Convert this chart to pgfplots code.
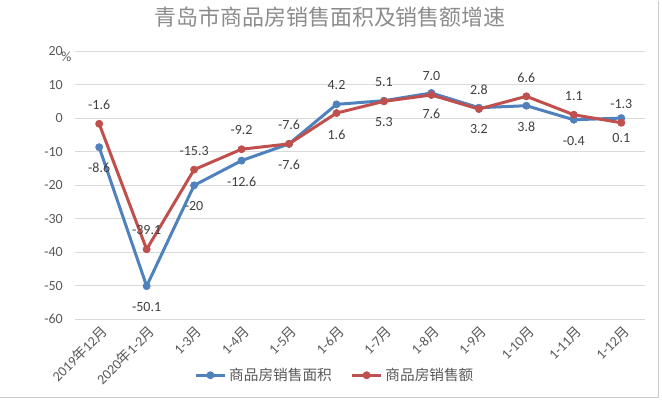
\documentclass[border=0pt]{standalone}
\usepackage{pgfplots}
\pgfplotsset{compat=1.18}
\usepackage{pgfplotstable}
\usepackage{fontspec}
\setmainfont{Carlito}
\newfontfamily\cjk{Noto Sans CJK SC}
\definecolor{cblue}{HTML}{4F81BD}
\definecolor{cred}{HTML}{C0504D}
\definecolor{tgray}{HTML}{595959}
\definecolor{lgray}{HTML}{404040}
\definecolor{ggray}{HTML}{D9D9D9}

\pgfplotstableread{
x y lab dy
0 -8.6 -8.6 -15.75
1 -50.1 -50.1 -15.75
2 -20 -20 -15.75
3 -12.6 -12.6 -15.75
4 -7.6 -7.6 -15.75
5 4.2 1.6 -22.5
6 5.3 5.3 -15.75
7 7.6 7.6 -15.75
8 3.2 3.2 -15.75
9 3.8 3.8 -15.75
10 -0.4 -0.4 -15.75
11 0.1 0.1 -15
}\areatab

\pgfplotstableread{
x y lab dy
0 -1.6 -1.6 14.25
1 -39.1 -39.1 14.25
2 -15.3 -15.3 14.25
3 -9.2 -9.2 14.25
4 -7.6 -7.6 14.25
5 1.6 4.2 21
6 5.1 5.1 14.25
7 7.0 7.0 14.25
8 2.8 2.8 14.25
9 6.6 6.6 14.25
10 1.1 1.1 14.25
11 -1.3 -1.3 14.25
}\salestab

\begin{document}
\begin{tikzpicture}
\begin{axis}[
  scale only axis,
  width=427.5pt, height=201pt,
  xmin=-0.5, xmax=11.5,
  ymin=-60, ymax=20,
  clip mode=individual,
  ytick={-60,-50,...,20},
  xtick={0,...,11},
  xticklabels={2019{\cjk 年}12{\cjk 月},2020{\cjk 年}1-2{\cjk 月},1-3{\cjk 月},1-4{\cjk 月},1-5{\cjk 月},1-6{\cjk 月},1-7{\cjk 月},1-8{\cjk 月},1-9{\cjk 月},1-10{\cjk 月},1-11{\cjk 月},1-12{\cjk 月}},
  axis line style={draw=none},
  major tick length=0pt,
  tick style={draw=none},
  ymajorgrids,
  grid style={ggray, line width=0.75pt},
  /pgf/number format/assume math mode=true,
  yticklabel style={font=\fontsize{10.5}{12}\selectfont, text=tgray, xshift=-6pt},
  xticklabel style={font=\fontsize{10.5}{12}\selectfont, text=tgray, rotate=45, anchor=east, yshift=-8pt, xshift=1pt},
  title={\cjk 青岛市商品房销售面积及销售额增速},
  title style={at={(0.447,1)}, anchor=center, yshift=19.5pt, font=\fontsize{16.5}{19}\selectfont, text=black!45},
  legend style={at={(0.456,0)}, anchor=center, yshift=-42pt, draw=none, fill=none,
    font=\fontsize{11}{13}\selectfont, text=tgray, legend columns=2,
    /tikz/every even column/.append style={column sep=12pt}},
  legend image code/.code={
    \draw[#1, line width=2.25pt] (0pt,0pt) -- (22pt,0pt);
    \draw[#1, mark repeat=1, mark phase=1] plot coordinates {(11pt,0pt)};
  },
  nodes near coords,
  point meta=explicit symbolic,
  visualization depends on={\thisrow{dy} \as \dy},
  nodes near coords style={anchor=center, yshift=\dy pt, font=\fontsize{10.5}{12}\selectfont, text=lgray},
]
\addplot[cblue, line width=2.25pt, line join=round, mark=*, mark size=2.7pt, mark options={fill=cblue, draw=cblue, line width=0.5pt}]
  table[x=x, y=y, meta=lab] {\areatab};
\addlegendentry{\cjk 商品房销售面积}
\addplot[cred, line width=2.25pt, line join=round, mark=*, mark size=2.7pt, mark options={fill=cred, draw=cred, line width=0.5pt}]
  table[x=x, y=y, meta=lab] {\salestab};
\addlegendentry{\cjk 商品房销售额}
\node[font=\fontsize{10.5}{12}\selectfont, text=tgray] at (rel axis cs:0,1) [xshift=-6.75pt, yshift=-3.75pt] {\%};
\end{axis}
\draw[black!20, line width=0.75pt] (-56.25pt,-58.5pt) -- (437.25pt,-58.5pt) -- (437.25pt,239.25pt);
\path[use as bounding box] (-56.25pt,-60pt) rectangle (440.25pt,239.25pt);
\end{tikzpicture}
\end{document}
